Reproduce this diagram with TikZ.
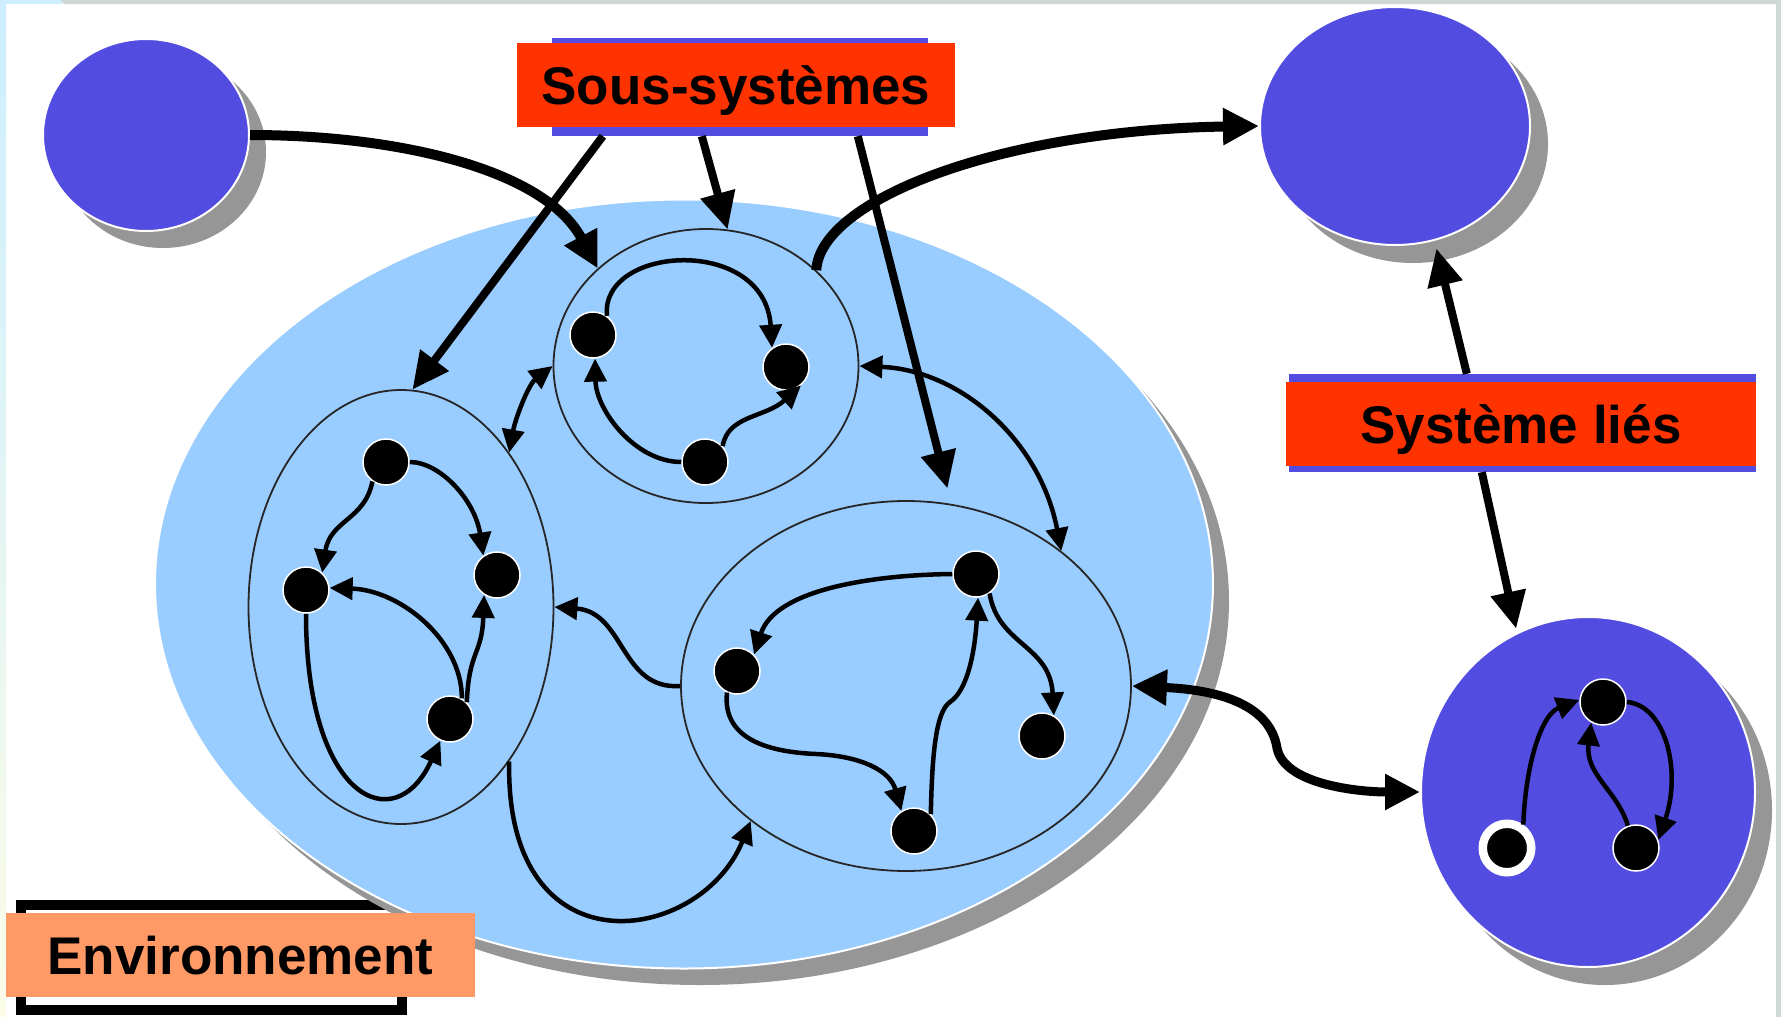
\documentclass[tikz,border=0pt]{standalone}
\usepackage{fontspec}
\setmainfont{Liberation Sans}
\usetikzlibrary{shapes.geometric,arrows.meta,calc}
\definecolor{sysblue}{RGB}{82,77,224}
\definecolor{envblue}{RGB}{153,204,255}
\definecolor{labred}{RGB}{255,51,0}
\definecolor{envorange}{RGB}{255,153,102}
\definecolor{shadowgray}{RGB}{150,150,150}
\definecolor{edgegray}{RGB}{206,216,212}
\definecolor{edgecyan}{RGB}{204,238,255}
\definecolor{edgeyellow}{RGB}{252,252,232}
\begin{document}
\begin{tikzpicture}[x=1pt,y=-1pt,
  bigell/.style={ellipse,draw=white,line width=2pt,inner sep=0pt},
  subsys/.style={ellipse,draw=black!85,line width=1.8pt,fill=envblue,inner sep=0pt},
  dot/.style={circle,fill=black,draw=white,line width=1.5pt,minimum size=46pt,inner sep=0pt},
  thickarrow/.style={line width=10pt,-{Triangle[length=36pt,width=35pt]}},
  labarrow/.style={line width=8pt,-{Triangle[length=37pt,width=34pt]}},
  thinarrow/.style={line width=4.5pt,-{Triangle[length=23pt,width=22pt]}},
  thindouble/.style={line width=4.5pt,{Triangle[length=23pt,width=22pt]}-{Triangle[length=23pt,width=22pt]}},
  thickdouble/.style={line width=9pt,{Triangle[length=35pt,width=34pt]}-{Triangle[length=35pt,width=34pt]}},
  labeltext/.style={font=\fontsize{53}{64}\selectfont\bfseries,text=black,inner sep=0pt,text height=38pt,text depth=0pt}
]
\useasboundingbox (0,0) rectangle (1781,1017);
% background and frame strips
\fill[white] (0,0) rectangle (1781,1017);
\shade[top color=edgecyan,bottom color=edgeyellow] (0,0) rectangle (6,1017);
\fill[edgecyan] (0,0) rectangle (62,4);
\fill[edgegray] (60,0) -- (1781,0) -- (1781,4) -- (64,4) -- cycle;
\fill[edgegray] (1776,0) rectangle (1781,1017);

% environment label frame (behind the ellipse)
\draw[line width=10pt] (21,905) rectangle (402,1010);

% shadows
\fill[shadowgray] (163,152) ellipse [x radius=103,y radius=96];
\fill[shadowgray] (1413,144) ellipse [x radius=135,y radius=119];
\fill[shadowgray] (700,601) ellipse [x radius=529,y radius=384];
\fill[shadowgray] (1605,810) ellipse [x radius=167,y radius=175];

% main ellipses
\node[bigell,fill=sysblue,minimum width=206pt,minimum height=192pt] (tl) at (146,135) {};
\node[bigell,fill=sysblue,minimum width=270pt,minimum height=238pt] (tr) at (1395,126) {};
\node[bigell,fill=envblue,minimum width=1058pt,minimum height=769pt] (env) at (684,584) {};
\node[bigell,fill=sysblue,minimum width=334pt,minimum height=350pt] (ld) at (1588,792) {};

% subsystems
\node[subsys,minimum width=305pt,minimum height=274pt] (A) at (706,366) {};
\node[subsys,minimum width=305pt,minimum height=434pt] (B) at (401,607) {};
\node[subsys,minimum width=450pt,minimum height=370pt] (C) at (906,686) {};

% environment label
\node[fill=envorange,minimum width=469pt,minimum height=84pt,labeltext] (envlab) at (240.5,955) {Environnement};

% dots
\node[dot] (a1) at (593,335) {};
\node[dot] (a2) at (786,367) {};
\node[dot] (a3) at (705,462) {};
\node[dot] (b1) at (386,462) {};
\node[dot] (b2) at (306,590) {};
\node[dot] (b3) at (497,575) {};
\node[dot] (b4) at (450,719) {};
\node[dot] (c1) at (976,574) {};
\node[dot] (c2) at (737,671) {};
\node[dot] (c3) at (1042,736) {};
\node[dot] (c4) at (914,831) {};
\node[dot] (d1) at (1603,702) {};
\node[dot,minimum size=48.5pt,line width=8.5pt] (d2) at (1507,848) {};
\node[dot] (d3) at (1636,848) {};

% labels
\node[fill=sysblue,minimum width=376pt,minimum height=98pt,inner sep=0pt] (ssbar) at (740,87) {};
\node[fill=labred,minimum width=438pt,minimum height=84pt,labeltext] (ss) at (736,85) {Sous-systèmes};
\node[fill=sysblue,minimum width=467pt,minimum height=98pt,inner sep=0pt] (stbar) at (1522.5,423) {};
\node[fill=labred,minimum width=470pt,minimum height=84pt,labeltext] (st) at (1521,424) {Système liés};

% thick arrows
\draw[thickarrow] (tl.east) .. controls (400,135) and (545,170) .. (A.138);
\draw[thickarrow] (A.41) .. controls (820,200) and (1000,130) .. (tr.west);
\draw[thickdouble] (C.east) .. controls (1220,690) and (1270,705) .. (1277,748) .. controls (1284,785) and (1360,792) .. (ld.west);

% label arrows
\draw[labarrow] ($(ssbar.south west)+(51,0)$) -- (B.87);
\draw[labarrow] ($(ssbar.south west)+(150,0)$) -- (A.81);
\draw[labarrow,shorten >=16pt] ($(ssbar.south west)+(306,0)$) -- (C.76);
\draw[labarrow,shorten >=8pt] ($(stbar.north west)+(178,0)$) -- (tr.-71);
\draw[labarrow,shorten >=4pt] ($(stbar.south west)+(193,0)$) -- (ld.114);

% subsystem A
\draw[thinarrow] (a1.54) .. controls (600,245) and (765,235) .. (a2.126);
\draw[thinarrow] (a3.180) .. controls (635,462) and (596,410) .. (a1.-85);
\draw[thinarrow] (a3.42) .. controls (728,415) and (765,418) .. (a2.-51);

% subsystem B
\draw[thinarrow] (b1.0) .. controls (440,462) and (475,500) .. (b3.125);
\draw[thinarrow] (b1.-125) .. controls (365,520) and (330,520) .. (b2.47);
\draw[thinarrow] (b2.-90) .. controls (306,800) and (395,840) .. (b4.-114);
\draw[thinarrow] (b4.45) .. controls (469,650) and (482,655) .. (b3.-123);
\draw[thinarrow] (b4.60) .. controls (462,640) and (400,590) .. (b2.5);

% subsystem C
\draw[thinarrow] (c1.180) .. controls (870,575) and (775,590) .. (c2.44);
\draw[thinarrow] (c2.-115) .. controls (722,740) and (770,752) .. (816,754) .. controls (860,756) and (890,770) .. (c4.122);
\draw[thinarrow] (c4.45) .. controls (932,760) and (935,712) .. (950,702) .. controls (968,690) and (975,650) .. (c1.-85);
\draw[thinarrow] (c1.-55) .. controls (998,645) and (1050,645) .. (c3.60);

% linked system
\draw[thinarrow] (d2.55) .. controls (1525,770) and (1540,715) .. (d1.175);
\draw[thinarrow] (d1.0) .. controls (1665,705) and (1682,770) .. (d3.20);
\draw[thinarrow] (d3.110) .. controls (1617,790) and (1585,775) .. (d1.-120);

% between subsystems
\draw[thindouble] (B.55) .. controls (515,420) and (528,385) .. (A.west);
\draw[thindouble] (A.east) .. controls (960,370) and (1040,440) .. (C.41);
\draw[thinarrow] (C.west) .. controls (620,690) and (625,612) .. (B.east);
\draw[thinarrow] (B.-55) .. controls (505,975) and (700,945) .. (C.-139);
\end{tikzpicture}
\end{document}
